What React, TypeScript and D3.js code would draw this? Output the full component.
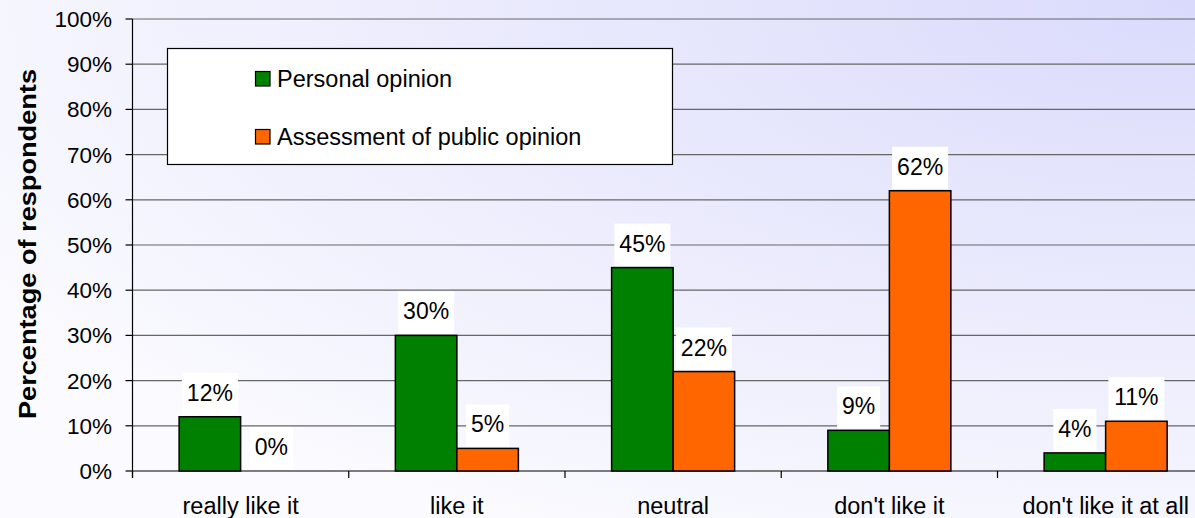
import React from "react";
import * as d3 from "d3";

const categories = ["really like it", "like it", "neutral", "don't like it", "don't like it at all"];
const personalOpinion = [12, 30, 45, 9, 4];
const publicOpinion = [0, 5, 22, 62, 11];
const seriesNames = ["Personal opinion", "Assessment of public opinion"];
const seriesColors = ["#008000", "#ff6600"];
const yTicks = [0, 10, 20, 30, 40, 50, 60, 70, 80, 90, 100];
const yTitle = "Percentage of respondents";

const W = 1195;
const H = 518;
const FONT = "'Liberation Sans', Arial, Helvetica, sans-serif";

export default function App() {
  const plotLeft = 132.5;
  const bandStep = 216.25;
  const x = d3
    .scaleBand<string>()
    .domain(categories)
    .range([plotLeft, plotLeft + bandStep * categories.length])
    .padding(0);
  const xInner = d3
    .scaleBand<number>()
    .domain([0, 1])
    .range([0, x.bandwidth()])
    .paddingInner(0)
    .paddingOuter(0.758);
  const y = d3.scaleLinear().domain([0, 100]).range([471, 19]);
  const plotRight = x.range()[1];
  const series = [personalOpinion, publicOpinion];
  const fmt = (v: number) => `${v}%`;

  return (
    <svg
      width={W}
      height={H}
      viewBox={`0 0 ${W} ${H}`}
      style={{ position: "absolute", left: 0, top: 0, display: "block" }}
    >
      <defs>
        <radialGradient id="bg" cx="1" cy="0" r="1.2" fx="1" fy="0">
          <stop offset="0" stopColor="#dadafc" />
          <stop offset="0.5" stopColor="#ebebfd" />
          <stop offset="1" stopColor="#fbfbff" />
        </radialGradient>
      </defs>
      <rect x={0} y={0} width={W} height={H} fill="url(#bg)" />

      {/* horizontal gridlines */}
      {yTicks.map((t) => (
        <line
          key={`g${t}`}
          x1={plotLeft}
          x2={plotRight}
          y1={y(t)}
          y2={y(t)}
          stroke={t === 0 ? "#000" : "#666"}
          strokeWidth={t === 0 ? 1.2 : 1.2}
        />
      ))}

      {/* y axis */}
      <line x1={plotLeft} x2={plotLeft} y1={y(100)} y2={y(0) + 7} stroke="#000" strokeWidth={1.2} />
      {yTicks.map((t) => (
        <g key={`yt${t}`}>
          <line x1={plotLeft - 7} x2={plotLeft} y1={y(t)} y2={y(t)} stroke="#000" strokeWidth={1.2} />
          <text
            x={112}
            y={y(t) + 8}
            textAnchor="end"
            fontFamily={FONT}
            fontSize={22.5}
            fill="#000"
          >
            {fmt(t)}
          </text>
        </g>
      ))}

      {/* x axis ticks at category boundaries */}
      {categories.map((c) => (
        <line
          key={`xt${c}`}
          x1={x(c)!}
          x2={x(c)!}
          y1={y(0)}
          y2={y(0) + 7}
          stroke="#000"
          strokeWidth={1.2}
        />
      ))}
      {categories.map((c) => (
        <text
          key={`xl${c}`}
          x={x(c)! + x.bandwidth() / 2}
          y={514}
          textAnchor="middle"
          fontFamily={FONT}
          fontSize={23.5}
          fill="#000"
        >
          {c}
        </text>
      ))}

      {/* bars */}
      {categories.map((c, i) =>
        series.map((s, k) => {
          const bx = x(c)! + xInner(k)!;
          const top = y(s[i]);
          return (
            <rect
              key={`b${i}-${k}`}
              x={bx}
              y={top}
              width={xInner.bandwidth()}
              height={y(0) - top}
              fill={seriesColors[k]}
              stroke="#000"
              strokeWidth={1.5}
            />
          );
        })
      )}

      {/* value labels with white boxes */}
      {categories.map((c, i) =>
        series.map((s, k) => {
          const cx = x(c)! + xInner(k)! + xInner.bandwidth() / 2;
          const top = y(s[i]);
          const label = fmt(s[i]);
          const tw = label.length === 2 ? 32 : 45;
          const bw = tw + 11;
          return (
            <g key={`l${i}-${k}`}>
              <rect x={cx - bw / 2} y={top - 44} width={bw} height={42} fill="#fff" />
              <text
                x={cx}
                y={top - 16}
                textAnchor="middle"
                fontFamily={FONT}
                fontSize={23}
                fill="#000"
              >
                {label}
              </text>
            </g>
          );
        })
      )}

      {/* y axis title */}
      <text
        transform={`translate(36, 244) rotate(-90)`}
        textAnchor="middle"
        fontFamily={FONT}
        fontWeight="bold"
        fontSize={23}
        textLength={350}
        lengthAdjust="spacingAndGlyphs"
        fill="#000"
      >
        {yTitle}
      </text>

      {/* legend */}
      <rect x={167.5} y={48.5} width={505} height={116} fill="#fff" stroke="#000" strokeWidth={1.2} />
      {seriesNames.map((name, k) => (
        <g key={`lg${k}`} transform={`translate(255, ${71 + k * 58})`}>
          <rect x={0.5} y={0.5} width={14.5} height={14.5} fill={seriesColors[k]} stroke="#000" strokeWidth={1.2} />
          <text x={22} y={16} fontFamily={FONT} fontSize={23.5} fill="#000">
            {name}
          </text>
        </g>
      ))}
    </svg>
  );
}
